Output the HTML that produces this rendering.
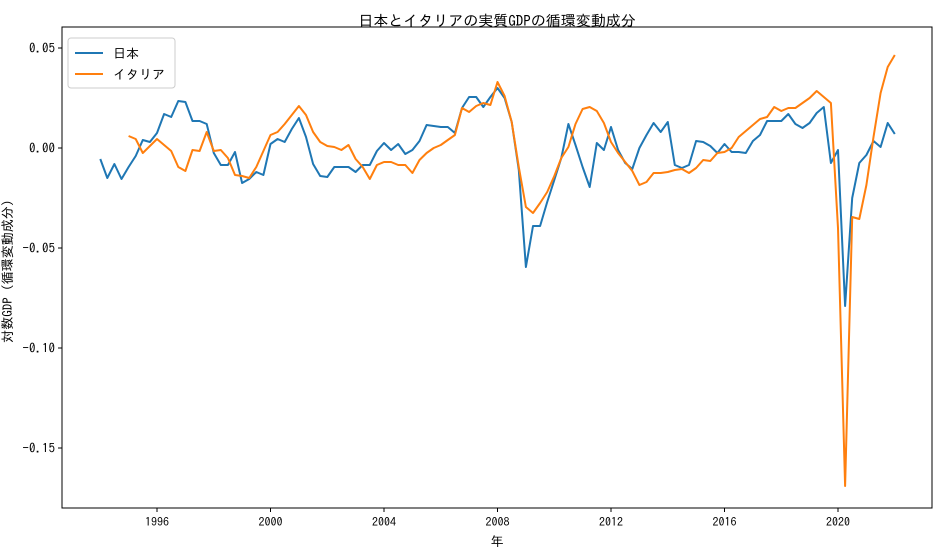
<!DOCTYPE html>
<html><head><meta charset="utf-8"><style>
body{margin:0;background:#fff;}
svg{display:block;font-family:"IPAGothic","Liberation Sans","Noto Sans CJK JP",sans-serif;}
</style></head><body>
<svg id="chart" width="944" height="559">
<rect x="0" y="0" width="944" height="559" fill="#fff"/>
<text x="497" y="26" text-anchor="middle" font-size="15">日本とイタリアの実質GDPの循環変動成分</text>
<g id="grid"></g>
<g id="lines"></g>
<rect x="62" y="27" width="870" height="481" fill="none" stroke="#000" stroke-width="1"/>
<text x="497" y="546" text-anchor="middle" font-size="13">年</text>
<text transform="translate(12,268) rotate(-90)" text-anchor="middle" font-size="13">対数GDP（循環変動成分）</text>
<g>
<rect x="68" y="38" width="107" height="50" rx="3" fill="#fff" stroke="#ccc"/>
<line x1="75" y1="53" x2="103" y2="53" stroke="#1f77b4" stroke-width="2"/>
<text x="113" y="58" font-size="13">日本</text>
<line x1="75" y1="74" x2="103" y2="74" stroke="#ff7f0e" stroke-width="2"/>
<text x="113" y="79" font-size="13">イタリア</text>
</g>
</svg>
<script>
const japanValues=[-5.5,-15,-8,-15.5,-9.5,-4,4,3,7.5,17,15.5,23.5,23,13.5,13.5,12,-2.5,-8.5,-8.5,-2,-17.5,-15.5,-12,-13.5,2,4.5,3,9.5,15,5.5,-8,-14,-14.5,-9.5,-9.5,-9.5,-12,-8.5,-8.5,-1.5,2.5,-1,2,-3,
-1,3.5,11.5,11,10.5,10.5,7.5,20,25.5,25.5,20.5,25.5,30,25,13,-11,-59.5,-39,-39,-27,-16,-5,12,1.5,-9.5,-19.5,2.5,-1,10.5,-1,-7.5,-10.5,0,6.5,12.5,8,13,-8.5,-10,-8.5,3.5,
3,1,-2.5,2,-2,-2,-2.5,3.5,6.5,13.5,13.5,13.5,17,12,10,12.5,17.5,20.5,-7.5,-1,-79,-25,-7.5,-3.5,3.5,0.5,12.5,7];
const italyValues=[6,4.5,-2.5,1,4.5,1.5,-1.5,-9.5,-11.5,-1,-1.5,8,-1.5,-1,-5,-13.5,-14,-15,-9.5,-1.5,6.5,8,12,16.5,21,16.5,8,3,1,0.5,-1,1.5,-5.5,-9.5,-15.5,-8.5,-7,-7,-8.5,-8.5,
-12.5,-6,-2.5,0,1.5,4,6.5,20,18,21,22.5,21.5,33,26,13,-9.5,-29.5,-32.5,-27.5,-22,-14,-5,0.5,12,19.5,20.5,18.5,12.5,3,-2.5,-7,-11.5,-18.5,-17,-12.5,-12.5,-12,-11,-10.5,-12.5,-10,
-6,-6.5,-2.5,-2,0,5.5,8.5,11.5,14.5,15.5,20.5,18.5,20,20,22.5,25,28.5,25.5,22.5,-40,-169,-34.5,-35.5,-18.5,5.5,27.5,40.5,46.5];
const japanStart=1994, italyStart=1995;
const xTicks=[1996,2000,2004,2008,2012,2016,2020];
const yTicks=[0.05,0,-0.05,-0.10,-0.15];
const yTickLabels=["0.05","0.00","−0.05","−0.10","−0.15"];
const NS="http://www.w3.org/2000/svg";
function xs(yr){return 157+(yr-1996)*28.375;}
function ys(v){return 148-v*2000;}
const grid=document.getElementById('grid'),lines=document.getElementById('lines');
xTicks.forEach(t=>{
 const l=document.createElementNS(NS,'line');
 l.setAttribute('x1',xs(t));l.setAttribute('x2',xs(t));l.setAttribute('y1',508);l.setAttribute('y2',512);l.setAttribute('stroke','#000');
 
 
 grid.appendChild(l);
 const tx=document.createElementNS(NS,'text');
 tx.setAttribute('x',xs(t));tx.setAttribute('y',526);tx.setAttribute('text-anchor','middle');tx.setAttribute('font-size','12');tx.textContent=t;
 
 
 grid.appendChild(tx);
});
yTicks.forEach((t,i)=>{
 const l=document.createElementNS(NS,'line');
 l.setAttribute('x1',58);l.setAttribute('x2',62);l.setAttribute('y1',ys(t));l.setAttribute('y2',ys(t));l.setAttribute('stroke','#000');
 
 
 grid.appendChild(l);
 const tx=document.createElementNS(NS,'text');
 tx.setAttribute('x',55);tx.setAttribute('y',ys(t)+4.5);tx.setAttribute('text-anchor','end');tx.setAttribute('font-size','13');tx.textContent=yTickLabels[i];
 
 
 grid.appendChild(tx);
});
function series(vals,start,color,name){
 const pts=vals.map((v,i)=>xs(start+i*0.25).toFixed(1)+','+ys(v/1000).toFixed(1)).join(' ');
 const p=document.createElementNS(NS,'polyline');
 p.setAttribute('points',pts);p.setAttribute('fill','none');p.setAttribute('stroke',color);p.setAttribute('stroke-width','2');p.setAttribute('stroke-linejoin','round');
 
 
 lines.appendChild(p);
}
series(japanValues,japanStart,'#1f77b4','japan-line');
series(italyValues,italyStart,'#ff7f0e','italy-line');
</script>
</body></html>
